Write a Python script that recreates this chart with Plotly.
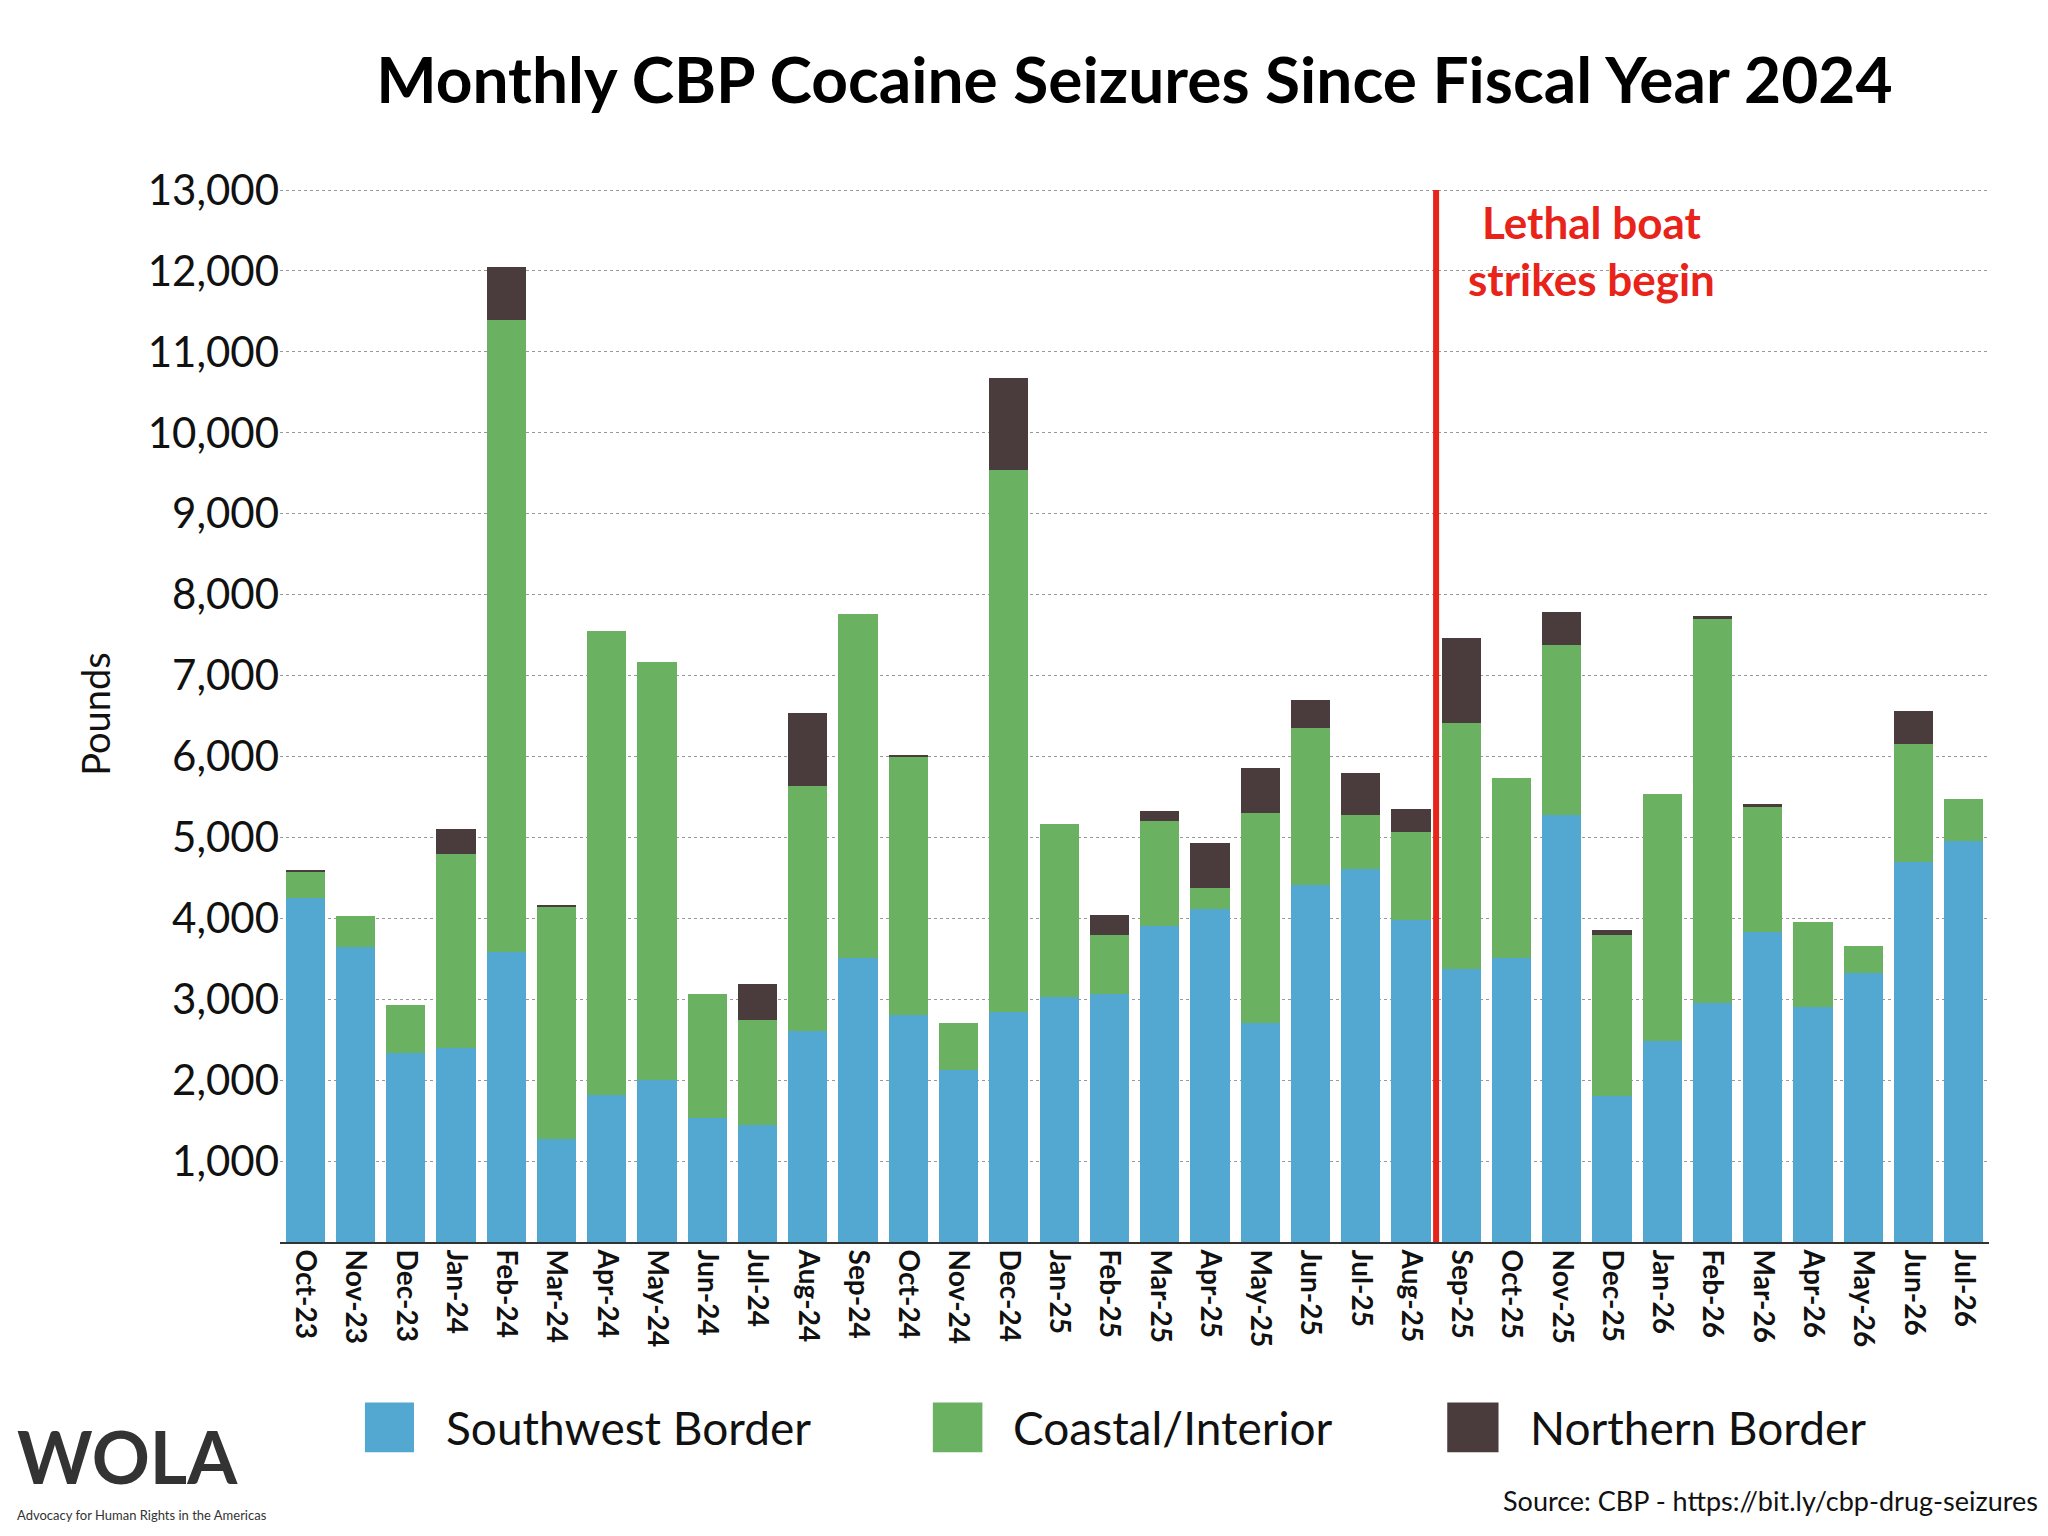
import plotly.graph_objects as go

months = ["Oct-23","Nov-23","Dec-23","Jan-24","Feb-24","Mar-24","Apr-24","May-24","Jun-24","Jul-24",
          "Aug-24","Sep-24","Oct-24","Nov-24","Dec-24","Jan-25","Feb-25","Mar-25","Apr-25","May-25",
          "Jun-25","Jul-25","Aug-25","Sep-25","Oct-25","Nov-25","Dec-25","Jan-26","Feb-26","Mar-26",
          "Apr-26","May-26","Jun-26","Jul-26"]
southwest = [4250,3640,2340,2400,3590,1270,1820,2000,1530,1450,2610,3510,2800,2130,2840,3030,3060,3900,4110,2710,
             4410,4610,3980,3370,3510,5280,1800,2480,2950,3830,2900,3320,4690,4950]
coastal = [320,390,590,2400,7810,2870,5730,5170,1530,1290,3030,4250,3190,580,6700,2140,730,1300,270,2590,
           1940,670,1090,3040,2220,2100,2000,3060,4750,1550,1060,340,1470,530]
northern = [30,0,0,310,650,30,0,0,0,450,900,0,30,0,1140,0,250,130,550,560,
            350,520,280,1050,0,400,50,0,30,30,0,0,400,0]
yticks = list(range(1000, 14000, 1000))

FONT = "Lato"
fig = go.Figure()
series = [("Southwest Border", southwest, "#52a8d0"),
          ("Coastal/Interior", coastal, "#6ab261"),
          ("Northern Border", northern, "#4a3c3c")]
for name, vals, col in series:
    fig.add_trace(go.Bar(x=months, y=vals, name=name, marker_color=col, marker_line_width=0))

fig.update_layout(
    barmode="stack", bargap=0.22, width=2048, height=1536,
    paper_bgcolor="white", plot_bgcolor="white",
    margin=dict(l=272, r=67, t=178, b=302),
    font=dict(family=FONT, color="#111"),
    title=dict(text="<b>Monthly CBP Cocaine Seizures Since Fiscal Year 2024</b>", x=0.55, xanchor="center",
               y=0.953, yanchor="middle", font=dict(size=64, family=FONT, color="black")),
    showlegend=False,
)
# custom legend with large swatches
leg = [(0.0497, 0.0784, 0.096), (0.382, 0.411, 0.428), (0.683, 0.713, 0.730)]
for (name, _, col), (x0, x1, xt) in zip(series, leg):
    fig.add_shape(type="rect", xref="paper", yref="paper", x0=x0, x1=x1, y0=-0.199, y1=-0.152,
                  fillcolor=col, line_width=0)
    fig.add_annotation(xref="paper", yref="paper", x=xt, y=-0.176, xanchor="left", yanchor="middle",
                       text=name, showarrow=False, font=dict(size=46, family=FONT, color="#111"))

fig.update_xaxes(tickangle=90, tickfont=dict(size=28, family=FONT, color="#111", weight="bold"),
                 showline=True, linecolor="#333", linewidth=2, ticks="")
fig.update_yaxes(range=[0, 13050], tickvals=yticks, ticktext=[f"{v:,}" for v in yticks],
                 tickfont=dict(size=42, family=FONT, color="#111"),
                 showgrid=True, gridcolor="#999", griddash="dot", gridwidth=1, zeroline=False,
                 title=dict(text="Pounds", font=dict(size=38, family=FONT), standoff=25))
fig.add_shape(type="line", xref="x", yref="y", x0=22.5, x1=22.5, y0=0, y1=13000,
              line=dict(color="#e8231a", width=6))
fig.add_annotation(xref="x", yref="y", x=25.6, y=12250, text="<b>Lethal boat<br>strikes begin</b>",
                   showarrow=False, font=dict(size=44, color="#e8231a", family=FONT), align="center")
fig.add_annotation(xref="paper", yref="paper", x=1.03, y=-0.262, xanchor="right", yanchor="bottom",
                   text="Source: CBP - https://bit.ly/cbp-drug-seizures", showarrow=False,
                   font=dict(size=27, family=FONT, color="#111"))
fig.add_annotation(xref="paper", yref="paper", x=-0.155, y=-0.245, xanchor="left", yanchor="bottom",
                   text="<b>WOLA</b>", showarrow=False, font=dict(size=72, family=FONT, color="#333"))
fig.add_annotation(xref="paper", yref="paper", x=-0.155, y=-0.268, xanchor="left", yanchor="bottom",
                   text="Advocacy for Human Rights in the Americas", showarrow=False,
                   font=dict(size=13, family=FONT, color="#333"))
fig.write_html("out.html")
